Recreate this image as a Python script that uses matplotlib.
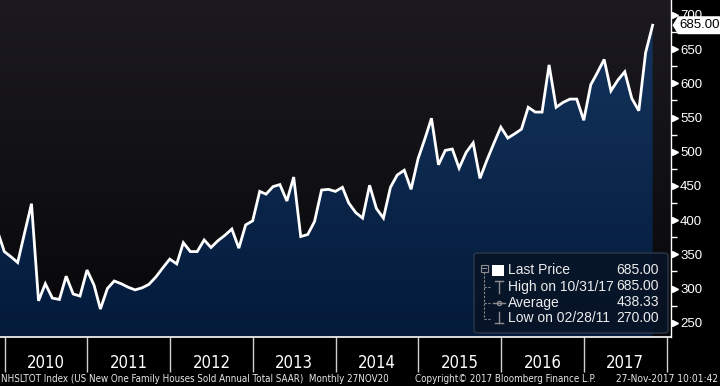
import numpy as np
import pandas as pd
import matplotlib
matplotlib.use('Agg')
import matplotlib.pyplot as plt
import matplotlib.dates as mdates
import matplotlib.transforms as mtransforms
from matplotlib.patches import Polygon, FancyBboxPatch, Rectangle
from matplotlib.lines import Line2D
from matplotlib import font_manager

# ---------------- data ----------------
first_month_end = '2009-11-30'
sales_2009 = [385, 354]
sales_2010 = [346, 338, 382, 424, 282, 307, 286, 284, 318, 292, 289, 327]
sales_2011 = [305, 270, 300, 311, 307, 302, 298, 301, 306, 317, 330, 343]
sales_2012 = [336, 367, 354, 354, 371, 360, 370, 378, 387, 359, 393, 399]
sales_2013 = [442, 438, 449, 452, 428, 463, 376, 379, 398, 444, 445, 442]
sales_2014 = [448, 425, 411, 403, 451, 417, 403, 448, 466, 473, 445, 490]
sales_2015 = [520, 549, 481, 502, 504, 476, 499, 513, 461, 488, 512, 536]
sales_2016 = [520, 526, 533, 565, 558, 558, 627, 565, 572, 577, 577, 546]
sales_2017 = [598, 615, 635, 589, 605, 617, 578, 560, 645, 685]

year_labels = ['2010', '2011', '2012', '2013', '2014', '2015', '2016', '2017']
y_ticks = [250, 300, 350, 400, 450, 500, 550, 600, 650, 700]
y_minor_ticks = [275, 325, 375, 425, 475, 525, 575, 625, 675]
legend_names = ['Last Price', 'High on 10/31/17', 'Average', 'Low on 02/28/11']
legend_values = ['685.00', '685.00', '438.33', '270.00']
last_value = 685
last_value_label = '685.00'
footer_left = 'NHSLTOT Index (US New One Family Houses Sold Annual Total SAAR)  Monthly 27NOV20'
footer_mid = 'Copyright\u00a9 2017 Bloomberg Finance L.P.'
footer_right = '27-Nov-2017 10:01:42'

values = np.array(sales_2009 + sales_2010 + sales_2011 + sales_2012 + sales_2013 +
                  sales_2014 + sales_2015 + sales_2016 + sales_2017, dtype=float)
dates = pd.date_range(first_month_end, periods=len(values), freq='ME')

# ---------------- fonts ----------------
flist = font_manager.fontManager.ttflist
avail = {f.name for f in flist}
base = 'Liberation Sans' if 'Liberation Sans' in avail else 'DejaVu Sans'
narrow_kw = {'family': base}
if 'Liberation Sans Narrow' in avail:
    narrow_kw = {'family': 'Liberation Sans Narrow'}
elif any(f.name == 'DejaVu Sans' and f.stretch == 'condensed' for f in flist):
    narrow_kw = {'family': 'DejaVu Sans', 'stretch': 'condensed'}
plt.rcParams['font.family'] = [base, 'DejaVu Sans']

# ---------------- figure ----------------
W, H = 720, 386
fig = plt.figure(figsize=(W / 100, H / 100), dpi=100, facecolor='black')
AX_R, AX_B = 671, 337
ax = fig.add_axes([0, 1 - AX_B / H, AX_R / W, AX_B / H])
ax.set_facecolor('none')


def fx(px):
    return px / W


def fy(py):
    return 1 - py / H


xd = mdates.date2num(dates)
x0 = mdates.date2num(pd.Timestamp('2009-12-12'))
x1 = mdates.date2num(pd.Timestamp('2018-01-20'))
ymin, ymax = 229.1, 721.9

# background gradient
t = np.linspace(0, 1, 256)[:, None, None]
bg_top = np.array([28, 26, 32]) / 255
bg_bot = np.array([7, 7, 9]) / 255
ax.imshow(bg_top * (1 - t) + bg_bot * t, extent=[x0, x1, ymin, ymax], aspect='auto',
          origin='upper', zorder=0, interpolation='bilinear')

# area fill gradient clipped to data polygon
verts = np.column_stack([np.r_[xd[0], xd, xd[-1]], np.r_[ymin, values, ymin]])
clip = Polygon(verts, closed=True, facecolor='none', edgecolor='none', transform=ax.transData)
ax.add_patch(clip)
f_top = np.array([22, 54, 96]) / 255
f_bot = np.array([3, 26, 58]) / 255
im = ax.imshow(f_top * (1 - t) + f_bot * t, extent=[x0, x1, ymin, ymax], aspect='auto',
               origin='upper', zorder=1, interpolation='bilinear')
im.set_clip_path(clip)

ax.plot(xd, values, color='white', lw=2.0, zorder=3, solid_joinstyle='miter')

ax.set_xlim(x0, x1)
ax.set_ylim(ymin, ymax)

for s in ['top', 'left']:
    ax.spines[s].set_visible(False)
ax.spines['bottom'].set_color('white')
ax.spines['bottom'].set_linewidth(1.2)
ax.spines['right'].set_color('white')
ax.spines['right'].set_linewidth(1.0)
for s in ax.spines.values():
    s.set_zorder(5)

# y axis (right)
ax.yaxis.tick_right()
ax.set_yticks(y_ticks)
ax.set_yticklabels([str(v) for v in y_ticks])
ax.set_yticks(y_minor_ticks, minor=True)
ax.tick_params(axis='y', which='major', length=0, pad=6.5, labelcolor='white', labelsize=9.5)
ax.tick_params(axis='y', which='minor', length=4, width=1, color='white')
tri_trans = mtransforms.blended_transform_factory(ax.transAxes, ax.transData) + \
    mtransforms.ScaledTranslation(0.035, 0, fig.dpi_scale_trans)
ax.plot([1] * len(y_ticks), y_ticks, ls='none', marker='>', ms=5, color='white',
        transform=tri_trans, clip_on=False, zorder=6)

# x axis: year separators and centred year labels
years = [int(y) for y in year_labels]
sep = pd.to_datetime([f'{y}-01-01' for y in years + [years[-1] + 1]])
ax.set_xticks(mdates.date2num(sep))
ax.tick_params(axis='x', which='major', length=25, width=1, color='#cfcfcf', labelbottom=False)
mids = pd.to_datetime([f'{y}-07-02' for y in years])
ax.set_xticks(mdates.date2num(mids), minor=True)
ax.set_xticklabels(year_labels, minor=True)
ax.tick_params(axis='x', which='minor', length=0, pad=12.5, labelcolor='white', labelsize=12)
for lbl in ax.get_xticklabels(minor=True):
    lbl.set_fontfamily(narrow_kw['family'])
    if 'stretch' in narrow_kw:
        lbl.set_fontstretch(narrow_kw['stretch'])

renderer = fig.canvas.get_renderer()


def fit_text(x_px, y_px, s, target_w, ha='left', color='#e8e8e8'):
    txt = fig.text(fx(x_px), fy(y_px), s, ha=ha, va='center', fontsize=8,
                   color=color, **{('fontstretch' if k == 'stretch' else k): v
                                   for k, v in narrow_kw.items()})
    w = txt.get_window_extent(renderer).width
    txt.set_fontsize(8 * target_w / w)
    return txt


fit_text(1, 379, footer_left, 388)
fit_text(415, 379, footer_mid, 180)
fit_text(718, 379, footer_right, 102, ha='right')

# last value flag
y_last_disp = ax.transData.transform((xd[-1], last_value))[1]
yl = H - y_last_disp
flag = Polygon([(fx(672.5), fy(yl)), (fx(678), fy(yl - 9)), (fx(720), fy(yl - 9)),
                (fx(720), fy(yl + 9)), (fx(678), fy(yl + 9))], closed=True,
               transform=fig.transFigure, facecolor='white', edgecolor='none', zorder=10)
fig.patches.append(flag)
fig.text(fx(679), fy(yl), last_value_label, ha='left', va='center', fontsize=9.5,
         color='black', zorder=11)

# legend box
box = FancyBboxPatch((fx(474), fy(333)), fx(668) - fx(474), fy(253) - fy(333),
                     boxstyle='round,pad=0,rounding_size=0.006', transform=fig.transFigure,
                     facecolor=(8 / 255, 20 / 255, 38 / 255, 0.88),
                     edgecolor=(45 / 255, 55 / 255, 75 / 255), lw=1, zorder=7)
fig.patches.append(box)
grey = '#8c8c8c'
rows_y = [270.5, 286.5, 302.5, 318.5]
# tree icon
fig.patches.append(Rectangle((fx(480.5), fy(271.5)), fx(7), fy(264.5) - fy(271.5),
                             transform=fig.transFigure, facecolor='none', edgecolor=grey,
                             lw=0.8, zorder=8))
fig.lines.append(Line2D([fx(482), fx(486)], [fy(268), fy(268)], transform=fig.transFigure,
                        color=grey, lw=0.8, zorder=8))
fig.lines.append(Line2D([fx(484), fx(484)], [fy(272), fy(319)], transform=fig.transFigure,
                        color=grey, lw=0.8, ls=(0, (2, 1.5)), zorder=8))
for ry in rows_y[1:]:
    fig.lines.append(Line2D([fx(484), fx(490)], [fy(ry), fy(ry)], transform=fig.transFigure,
                            color=grey, lw=0.8, ls=(0, (2, 1.5)), zorder=8))
# last price white square
fig.patches.append(Rectangle((fx(492), fy(276)), fx(11.5), fy(264.5) - fy(276),
                             transform=fig.transFigure, facecolor='white', edgecolor='none',
                             zorder=8))
# high marker
fig.lines.append(Line2D([fx(495), fx(503)], [fy(281), fy(281)], transform=fig.transFigure,
                        color=grey, lw=1, zorder=8))
fig.lines.append(Line2D([fx(499), fx(499)], [fy(281), fy(293)], transform=fig.transFigure,
                        color=grey, lw=1, zorder=8))
# average marker
fig.lines.append(Line2D([fx(493), fx(505)], [fy(302.5), fy(302.5)], transform=fig.transFigure,
                        color=grey, lw=1, zorder=8))
fig.lines.append(Line2D([fx(499)], [fy(302.5)], transform=fig.transFigure, marker='o', ms=3,
                        mfc='none', mec=grey, color=grey, zorder=8))
# low marker
fig.lines.append(Line2D([fx(499), fx(499)], [fy(312), fy(323)], transform=fig.transFigure,
                        color=grey, lw=1, zorder=8))
fig.lines.append(Line2D([fx(495), fx(503)], [fy(323), fy(323)], transform=fig.transFigure,
                        color=grey, lw=1, zorder=8))
for ry, name, val in zip(rows_y, legend_names, legend_values):
    fig.text(fx(508), fy(ry), name, ha='left', va='center', fontsize=10, color='#ececec', zorder=9)
    fig.text(fx(659), fy(ry), val, ha='right', va='center', fontsize=10, color='#ececec', zorder=9)

fig.savefig('out.png', dpi=100, facecolor='black')
